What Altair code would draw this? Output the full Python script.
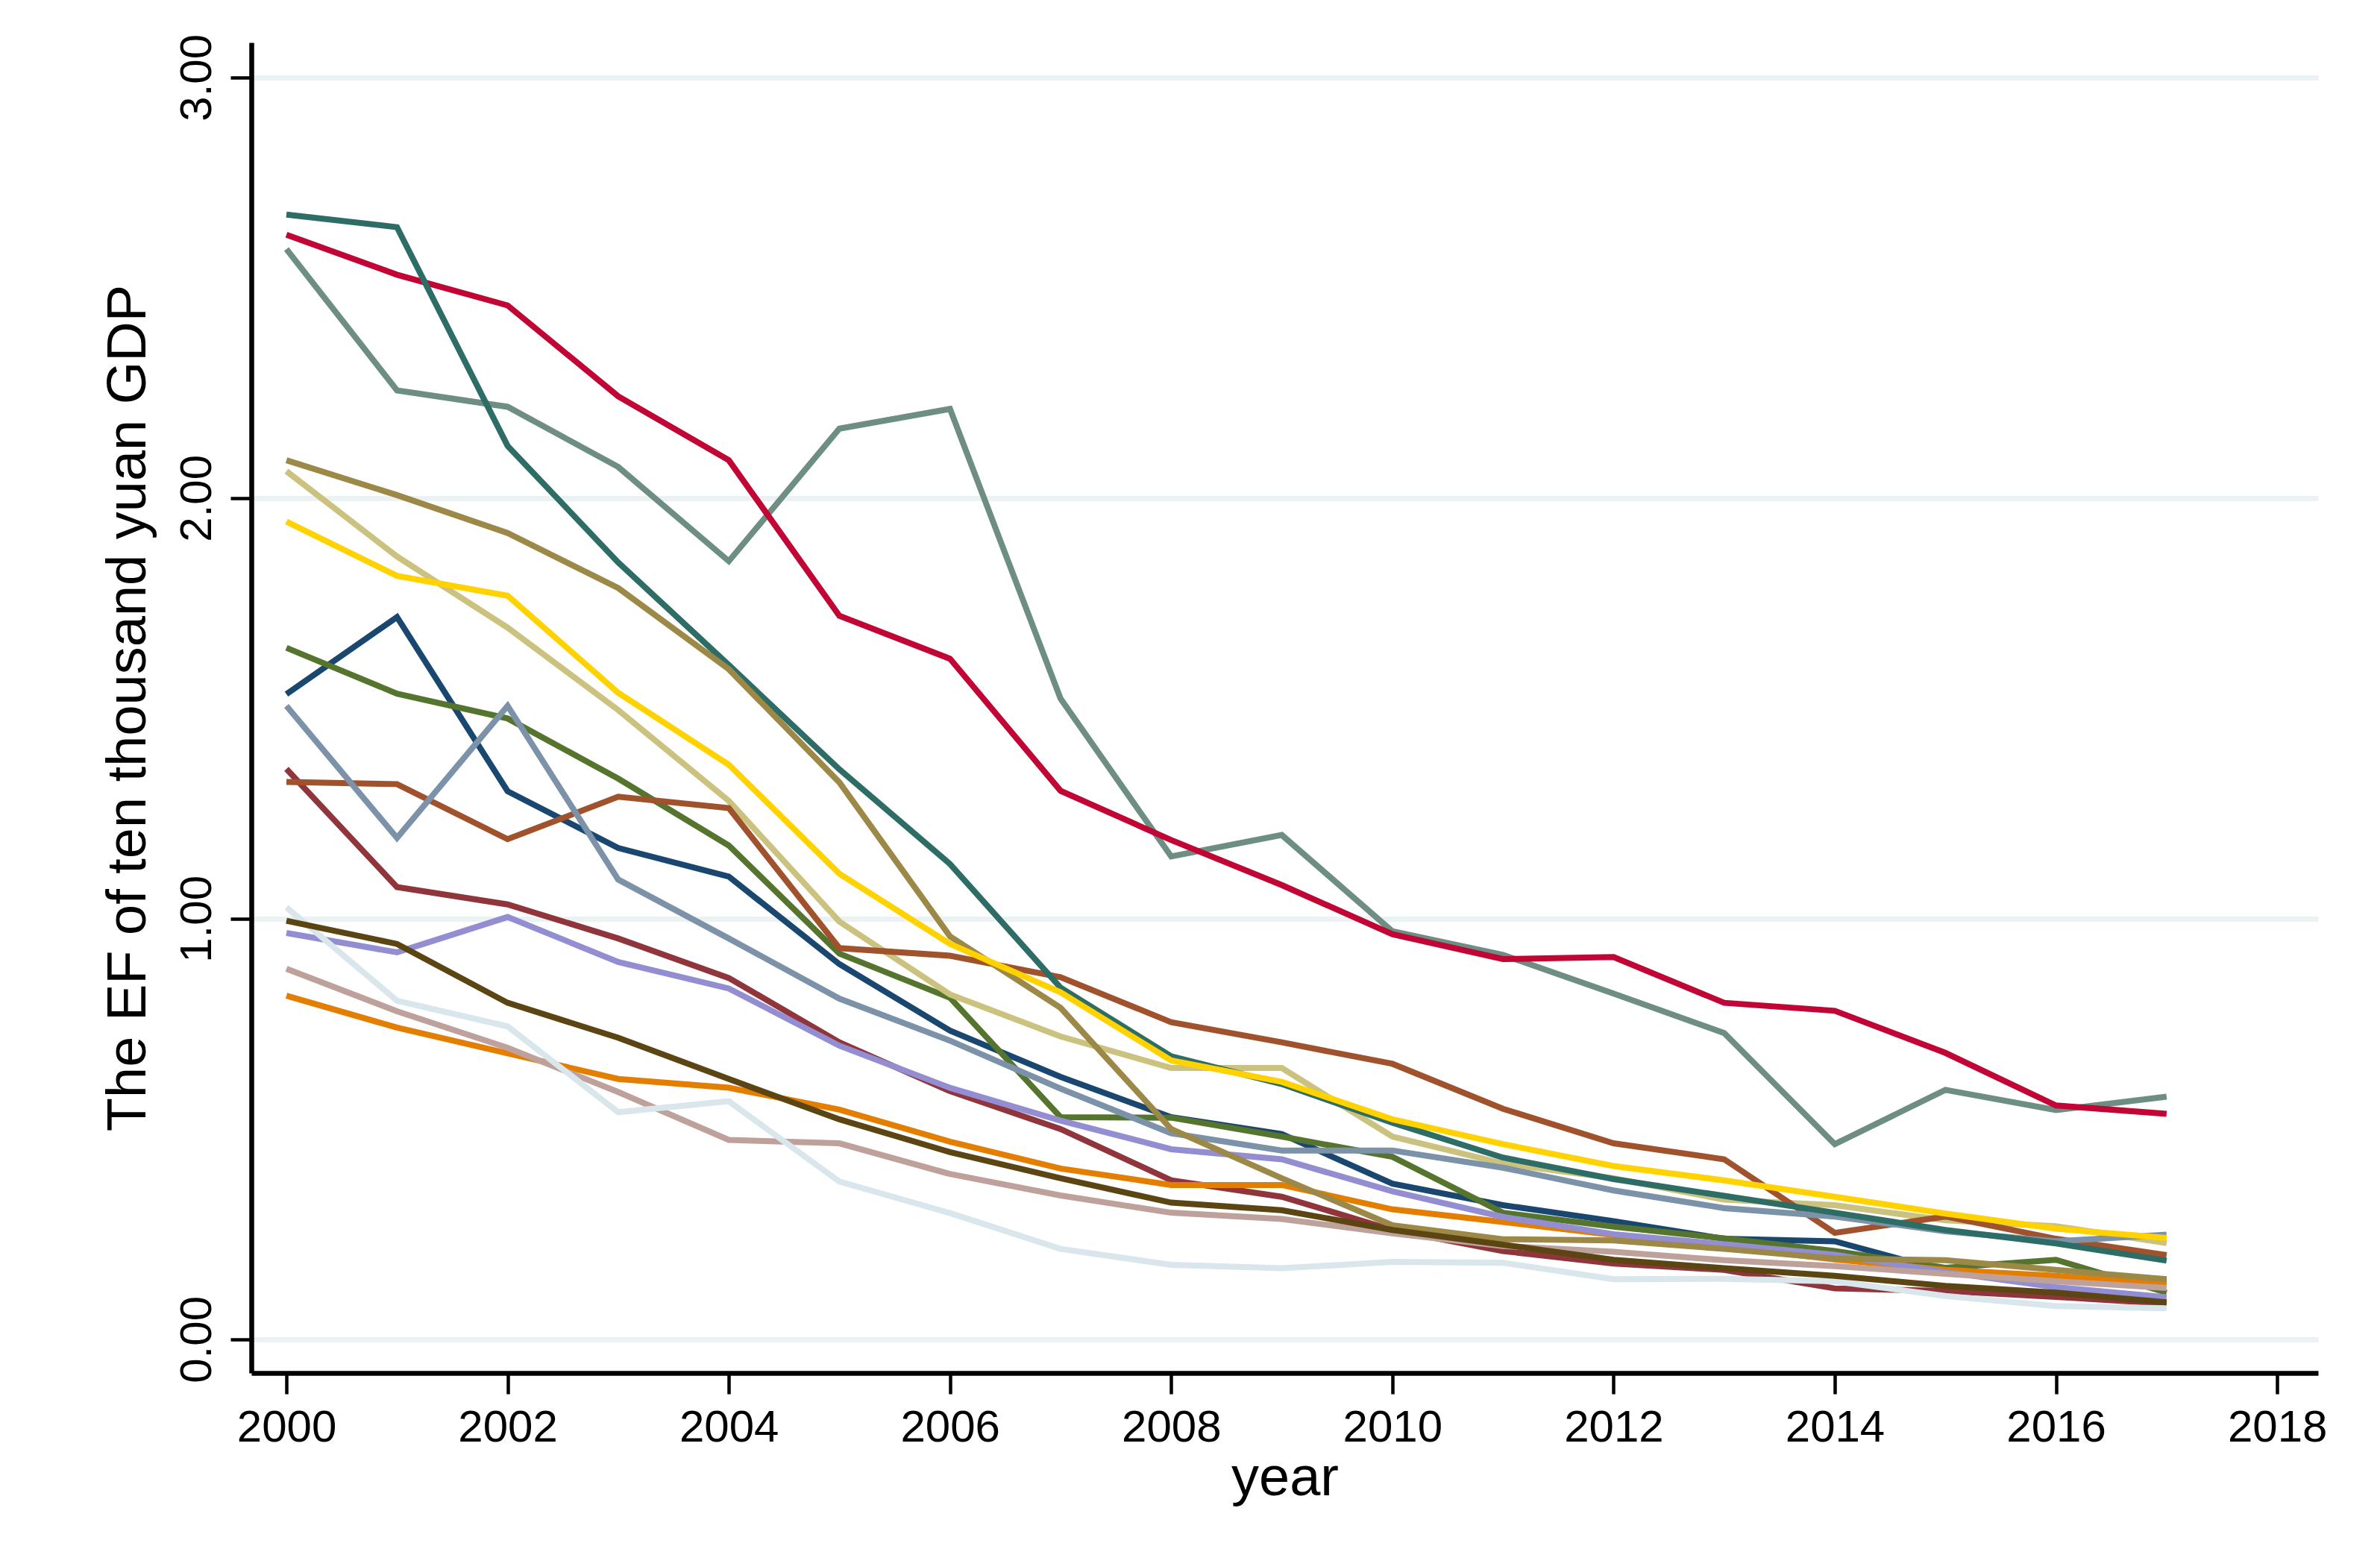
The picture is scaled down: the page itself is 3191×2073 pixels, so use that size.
import altair as alt
import pandas as pd

years = list(range(2000, 2018))

navy = [1.534, 1.717, 1.303, 1.168, 1.100, 0.892, 0.734, 0.624, 0.528, 0.488, 0.370, 0.319, 0.281, 0.239, 0.233, 0.162, 0.142, 0.140]
maroon = [1.356, 1.075, 1.034, 0.953, 0.859, 0.706, 0.590, 0.500, 0.378, 0.339, 0.260, 0.210, 0.180, 0.165, 0.121, 0.115, 0.101, 0.085]
forest_green = [1.644, 1.535, 1.476, 1.333, 1.174, 0.917, 0.812, 0.528, 0.527, 0.482, 0.434, 0.301, 0.268, 0.240, 0.210, 0.170, 0.189, 0.111]
dkorange = [0.817, 0.741, 0.680, 0.619, 0.598, 0.546, 0.470, 0.406, 0.367, 0.367, 0.309, 0.279, 0.248, 0.220, 0.190, 0.165, 0.151, 0.131]
teal = [2.592, 2.256, 2.217, 2.074, 1.850, 2.165, 2.212, 1.523, 1.148, 1.199, 0.970, 0.914, 0.822, 0.728, 0.464, 0.593, 0.545, 0.577]
cranberry = [2.626, 2.531, 2.458, 2.242, 2.090, 1.720, 1.618, 1.304, 1.187, 1.080, 0.963, 0.904, 0.909, 0.800, 0.781, 0.681, 0.556, 0.536]
lavender = [0.966, 0.920, 1.004, 0.897, 0.834, 0.698, 0.598, 0.520, 0.452, 0.428, 0.352, 0.291, 0.250, 0.226, 0.201, 0.160, 0.124, 0.100]
khaki = [2.064, 1.861, 1.692, 1.496, 1.280, 0.993, 0.820, 0.720, 0.645, 0.645, 0.482, 0.418, 0.383, 0.332, 0.319, 0.283, 0.269, 0.229]
sienna = [1.325, 1.320, 1.189, 1.290, 1.263, 0.930, 0.912, 0.861, 0.754, 0.706, 0.655, 0.548, 0.466, 0.428, 0.253, 0.292, 0.239, 0.200]
emidblue = [1.506, 1.192, 1.506, 1.093, 0.953, 0.810, 0.710, 0.596, 0.490, 0.449, 0.449, 0.408, 0.354, 0.312, 0.292, 0.257, 0.233, 0.249]
emerald = [2.674, 2.644, 2.124, 1.847, 1.603, 1.355, 1.130, 0.836, 0.673, 0.607, 0.515, 0.432, 0.381, 0.341, 0.301, 0.260, 0.228, 0.187]
brown = [2.090, 2.007, 1.917, 1.786, 1.593, 1.324, 0.958, 0.788, 0.500, 0.383, 0.271, 0.238, 0.235, 0.215, 0.192, 0.188, 0.165, 0.143]
erose = [0.881, 0.780, 0.693, 0.588, 0.474, 0.466, 0.393, 0.342, 0.301, 0.286, 0.252, 0.222, 0.208, 0.188, 0.174, 0.156, 0.138, 0.122]
gold = [1.944, 1.815, 1.768, 1.537, 1.366, 1.107, 0.940, 0.825, 0.663, 0.612, 0.523, 0.464, 0.412, 0.378, 0.339, 0.299, 0.263, 0.241]
bluishgray = [1.027, 0.805, 0.744, 0.540, 0.566, 0.375, 0.300, 0.215, 0.177, 0.169, 0.184, 0.182, 0.143, 0.144, 0.138, 0.103, 0.079, 0.074]
darkbrown = [0.995, 0.940, 0.800, 0.717, 0.619, 0.523, 0.445, 0.383, 0.325, 0.307, 0.260, 0.225, 0.189, 0.169, 0.151, 0.127, 0.111, 0.088]

series = {
    "navy": (navy, "#1a476f"),
    "maroon": (maroon, "#90353b"),
    "forest_green": (forest_green, "#55752f"),
    "dkorange": (dkorange, "#e37e00"),
    "teal": (teal, "#6e8e84"),
    "cranberry": (cranberry, "#c10534"),
    "lavender": (lavender, "#938dd2"),
    "khaki": (khaki, "#cac27e"),
    "sienna": (sienna, "#a0522d"),
    "emidblue": (emidblue, "#7b92a8"),
    "emerald": (emerald, "#2d6d66"),
    "brown": (brown, "#9c8847"),
    "erose": (erose, "#bfa19c"),
    "gold": (gold, "#ffd200"),
    "bluishgray": (bluishgray, "#d9e6eb"),
    "darkbrown": (darkbrown, "#5b4513"),
}

rows = []
for i, (name, (vals, _c)) in enumerate(series.items()):
    for y, v in zip(years, vals):
        rows.append({"series": name, "order": i, "year": y, "ef": v})
df = pd.DataFrame(rows)

names = list(series.keys())
colors = [series[n][1] for n in names]

FONT = "Liberation Sans"

chart = alt.Chart(df).mark_line(strokeWidth=8).encode(
    x=alt.X("year:Q",
            scale=alt.Scale(domain=[1999.683, 2018.37], nice=False, zero=False),
            axis=alt.Axis(title="year", values=list(range(2000, 2019, 2)), format="d",
                          grid=False, labelPadding=16, titlePadding=2)),
    y=alt.Y("ef:Q",
            scale=alt.Scale(domain=[-0.08, 3.083], nice=False, zero=False),
            axis=alt.Axis(title="The EF of ten thousand yuan GDP", values=[0, 1, 2, 3], format=".2f",
                          grid=True, labelAngle=-90, labelAlign="center", labelBaseline="bottom",
                          labelPadding=14, titlePadding=24)),
    color=alt.Color("series:N", scale=alt.Scale(domain=names, range=colors), legend=None),
    order=alt.Order("order:Q"),
).properties(
    width=2771,
    height=1784,
    padding={"left": 329, "top": 49, "right": 60, "bottom": 200},
    autosize=alt.AutoSizeParams(type="none"),
    background="white",
).configure_view(
    stroke=None
).configure_axis(
    domainColor="black", domainWidth=6.5,
    tickColor="black", tickWidth=4.5, tickSize=28,
    labelFont=FONT, labelFontSize=60, labelColor="black",
    titleFont=FONT, titleFontSize=74, titleFontWeight="normal", titleColor="black",
    gridColor="#eaf2f3", gridWidth=7,
)

chart.save("out.html", embed_options={"renderer": "svg", "actions": False})
